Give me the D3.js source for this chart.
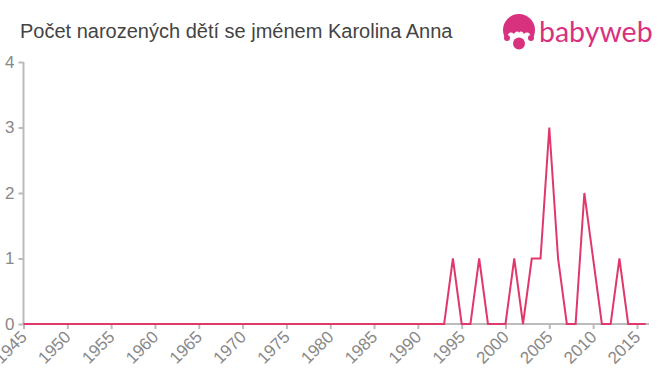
<!DOCTYPE html>
<html>
<head>
<meta charset="utf-8">
<script src="https://cdn.jsdelivr.net/npm/d3@7"></script>
<style>
body { margin: 0; background: #fff; }
svg { font-family: "Liberation Sans", Arial, sans-serif; }
</style>
</head>
<body>
<svg id="chart" width="660" height="375"></svg>
<script>
// data
var years = d3.range(1945, 2017);
var nonzero = {1994: 1, 1997: 1, 2001: 1, 2003: 1, 2004: 1, 2005: 3, 2006: 1, 2009: 2, 2010: 1, 2013: 1};
var counts = years.map(function(y) { return nonzero[y] || 0; });
var xTicks = d3.range(1945, 2016, 5);
var yTicks = [0, 1, 2, 3, 4];

var title = "Počet narozených dětí se jménem Karolina Anna";
var lineColor = "#e0386a";
var logoColor = "#d8327f";

var svg = d3.select("#chart");
var x = d3.scaleLinear().domain([1945, 2016]).range([23.5, 645.7]);
var y = d3.scaleLinear().domain([0, 4]).range([324, 62]);

svg.append("text")
    .attr("x", 20).attr("y", 38)
    .attr("font-size", 20)
    .attr("fill", "#444")
    .text(title);

// y axis
var yAxis = svg.append("g")
    .attr("transform", "translate(23.5,0)")
    .call(d3.axisLeft(y).tickValues(yTicks).tickSize(5).tickPadding(4).tickFormat(d3.format("d")));
yAxis.select(".domain").attr("stroke", "#bbb").attr("stroke-width", 2).attr("d", "M0,62V324");
yAxis.selectAll(".tick line").attr("stroke", "#bbb").attr("stroke-width", 2);
yAxis.selectAll(".tick text").attr("fill", "#888").attr("font-size", 17)
    .attr("font-family", "'Liberation Sans', Arial, sans-serif");

// x axis
var xAxis = svg.append("g")
    .attr("transform", "translate(0,324)")
    .call(d3.axisBottom(x).tickValues(xTicks).tickSize(5).tickFormat(d3.format("d")));
xAxis.select(".domain").attr("stroke", "#bbb").attr("stroke-width", 2).attr("d", "M23.5,0H649");
xAxis.selectAll(".tick line").attr("stroke", "#bbb").attr("stroke-width", 2);
xAxis.selectAll(".tick text")
    .attr("fill", "#888").attr("font-size", 17)
    .attr("font-family", "'Liberation Sans', Arial, sans-serif")
    .attr("text-anchor", "end")
    .attr("dy", null)
    .attr("y", 0)
    .attr("transform", "translate(4,14) rotate(-45)");

// line
var line = d3.line()
    .x(function(d, i) { return x(years[i]); })
    .y(function(d) { return y(d); });
svg.append("path")
    .datum(counts)
    .attr("d", line)
    .attr("fill", "none")
    .attr("stroke", lineColor)
    .attr("stroke-width", 2);

// logo
var logo = svg.append("g").attr("transform", "translate(519,30)");
logo.append("circle").attr("r", 16).attr("fill", logoColor);
logo.append("path")
    .attr("d", "M-12,8 C-12,3 -8,1 -5,4 C-3,1 -1,1 0,3 C1,1 3,1 5,4 C8,1 12,3 12,8 L12,18 L-12,18 Z")
    .attr("fill", "#fff");
logo.append("circle").attr("cx", -12).attr("cy", 8).attr("r", 3).attr("fill", logoColor);
logo.append("circle").attr("cx", 12).attr("cy", 8).attr("r", 3).attr("fill", logoColor);
logo.append("circle").attr("cx", 0).attr("cy", 13.5).attr("r", 6).attr("fill", logoColor);
svg.append("text")
    .attr("x", 539).attr("y", 42)
    .attr("font-size", 28.5)
    .attr("font-family", "Lato, 'Noto Sans', sans-serif")
    .attr("fill", logoColor)
    .text("babyweb");
</script>
</body>
</html>
